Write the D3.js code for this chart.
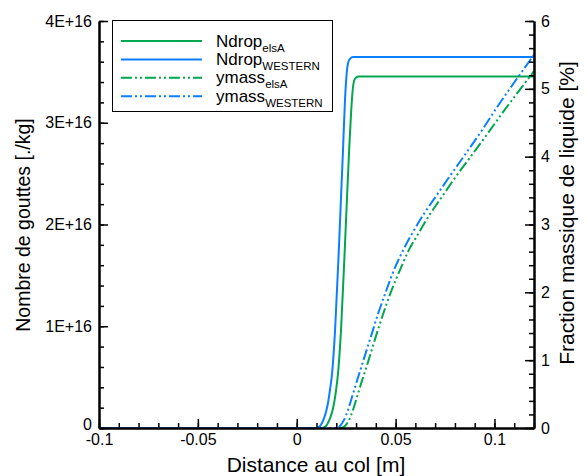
<!DOCTYPE html>
<html>
<head>
<meta charset="utf-8">
<script src="https://cdn.jsdelivr.net/npm/d3@7"></script>
<style>
  html, body { margin: 0; padding: 0; background: #fff; }
  svg { display: block; font-family: "Liberation Sans", Arial, sans-serif; }
</style>
</head>
<body>
<svg id="chart" width="587" height="476"></svg>
<script>
// ---------- data ----------
const ndropElsaX    = [-0.1, 0.0128, 0.0148, 0.0163, 0.0179, 0.0189, 0.0199, 0.0209, 0.0224, 0.0244, 0.0265, 0.0275, 0.0282, 0.0290, 0.0300, 0.0315, 0.12];
const ndropElsaY    = [0, 0, 0.02e16, 0.07e16, 0.157e16, 0.246e16, 0.373e16, 0.54e16, 0.963e16, 1.80e16, 2.73e16, 3.10e16, 3.30e16, 3.41e16, 3.445e16, 3.455e16, 3.455e16];

const ndropWesternX = [-0.1, 0.0098, 0.0118, 0.0133, 0.0148, 0.0158, 0.0168, 0.0179, 0.0194, 0.0214, 0.0234, 0.0244, 0.0252, 0.0260, 0.0270, 0.0285, 0.12];
const ndropWesternY = [0, 0, 0.02e16, 0.07e16, 0.157e16, 0.246e16, 0.373e16, 0.54e16, 0.963e16, 1.80e16, 2.73e16, 3.22e16, 3.47e16, 3.59e16, 3.63e16, 3.645e16, 3.645e16];

const ymassElsaX    = [-0.1, 0.0224, 0.0244, 0.0265, 0.0285, 0.0305, 0.0325, 0.0356, 0.0396, 0.0437, 0.0477, 0.0518, 0.0563, 0.0614, 0.0669, 0.0730, 0.0801, 0.0882, 0.0963, 0.1044, 0.1124, 0.12];
const ymassElsaY    = [0, 0, 0.03, 0.12, 0.27, 0.46, 0.65, 0.93, 1.31, 1.68, 2.01, 2.30, 2.60, 2.86, 3.13, 3.39, 3.69, 4.01, 4.33, 4.66, 4.97, 5.26];

const ymassWesternX = [-0.1, 0.0199, 0.0219, 0.0239, 0.0260, 0.0280, 0.0300, 0.0330, 0.0371, 0.0411, 0.0452, 0.0492, 0.0538, 0.0588, 0.0644, 0.0705, 0.0776, 0.0856, 0.0937, 0.1018, 0.1099, 0.12];
const ymassWesternY = [0, 0, 0.03, 0.12, 0.27, 0.46, 0.65, 0.93, 1.31, 1.68, 2.02, 2.33, 2.62, 2.89, 3.16, 3.42, 3.72, 4.05, 4.39, 4.75, 5.09, 5.50];

const xTicks = [-0.1, -0.05, 0, 0.05, 0.1];
const xTickLabels = ["-0.1", "-0.05", "0", "0.05", "0.1"];
const leftTicks = [0, 1e16, 2e16, 3e16, 4e16];
const leftTickLabels = ["0", "1E+16", "2E+16", "3E+16", "4E+16"];
const rightTicks = [0, 1, 2, 3, 4, 5, 6];
const rightTickLabels = ["0", "1", "2", "3", "4", "5", "6"];

const legendNames = ["Ndrop", "Ndrop", "ymass", "ymass"];
const legendSubs = ["elsA", "WESTERN", "elsA", "WESTERN"];

// ---------- layout ----------
const GREEN = "#00A650", BLUE = "#0A80FF";
const svg = d3.select("#chart");
const x = d3.scaleLinear().domain([-0.1, 0.12]).range([99, 534]);
const yL = d3.scaleLinear().domain([0, 4e16]).range([428, 21]);
const yR = d3.scaleLinear().domain([0, 6]).range([428, 21]);

const series = [
  { xs: ndropElsaX, ys: ndropElsaY, y: yL, color: GREEN, dash: null },
  { xs: ndropWesternX, ys: ndropWesternY, y: yL, color: BLUE, dash: null },
  { xs: ymassElsaX, ys: ymassElsaY, y: yR, color: GREEN, dash: "11,3,2,3,2,3" },
  { xs: ymassWesternX, ys: ymassWesternY, y: yR, color: BLUE, dash: "11,3,2,3,2,3" }
];

const gLines = svg.append("g");
series.forEach(s => {
  const pts = s.xs.map((v, i) => [v, s.ys[i]]);
  const line = d3.line().x(d => x(d[0])).y(d => s.y(d[1])).curve(d3.curveMonotoneX);
  gLines.append("path").datum(pts)
    .attr("d", line)
    .attr("fill", "none")
    .attr("stroke", s.color)
    .attr("stroke-width", 2)
    .attr("stroke-dasharray", s.dash);
});

function minor(lo, hi, step) {
  const out = [];
  for (let i = 0; lo + i * step <= hi + step * 1e-6; i++) out.push(lo + i * step);
  return out;
}

// bottom axis
const gx = svg.append("g").attr("transform", "translate(0,428)");
gx.call(d3.axisBottom(x).tickValues(minor(-0.1, 0.12, 0.01)).tickSize(-5).tickSizeOuter(0).tickFormat(""));
gx.append("g").call(d3.axisBottom(x).tickValues(xTicks).tickSize(-9).tickSizeOuter(0).tickPadding(6)
  .tickFormat((d, i) => xTickLabels[i]));

// left axis
const gl = svg.append("g").attr("transform", "translate(99,0)");
gl.call(d3.axisLeft(yL).tickValues(minor(0, 4e16, 0.2e16)).tickSize(-5).tickSizeOuter(0).tickFormat(""));
gl.append("g").call(d3.axisLeft(yL).tickValues(leftTicks).tickSize(-9).tickSizeOuter(0).tickPadding(7)
  .tickFormat((d, i) => leftTickLabels[i]));

// right axis
const gr = svg.append("g").attr("transform", "translate(534,0)");
gr.call(d3.axisRight(yR).tickValues(minor(0, 6, 0.2)).tickSize(-5).tickSizeOuter(0).tickFormat(""));
gr.append("g").call(d3.axisRight(yR).tickValues(rightTicks).tickSize(-9).tickSizeOuter(0).tickPadding(7)
  .tickFormat((d, i) => rightTickLabels[i]));

svg.selectAll(".domain").attr("stroke", "#000").attr("stroke-width", 2);
svg.selectAll(".tick line").attr("stroke", "#000").attr("stroke-width", 1.5);
svg.selectAll(".tick text").attr("font-size", 16).attr("fill", "#000")
  .attr("font-family", "'Liberation Sans', Arial, sans-serif");
// lift the left "0" slightly so it does not collide with "-0.1"
gl.selectAll(".tick text").filter(d => d === 0).attr("dy", "0.1em");

// axis titles
svg.append("text").attr("x", 316).attr("y", 472).attr("text-anchor", "middle")
  .attr("font-size", 21).text("Distance au col [m]");
svg.append("text").attr("transform", "translate(30,225) rotate(-90)").attr("text-anchor", "middle")
  .attr("font-size", 19.5).text("Nombre de gouttes [./kg]");
svg.append("text").attr("transform", "translate(574,213) rotate(-90)").attr("text-anchor", "middle")
  .attr("font-size", 21).text("Fraction massique de liquide [%]");

// legend
const lg = svg.append("g");
lg.append("rect").attr("x", 112.5).attr("y", 20.5).attr("width", 220).attr("height", 91)
  .attr("fill", "#fff").attr("stroke", "#000").attr("stroke-width", 1);
series.forEach((s, i) => {
  const cy = 41 + i * 18.4;
  lg.append("line").attr("x1", 121).attr("x2", 202).attr("y1", cy).attr("y2", cy)
    .attr("stroke", s.color).attr("stroke-width", 2).attr("stroke-dasharray", s.dash);
  const t = lg.append("text").attr("x", 216).attr("y", cy + 5.5).attr("font-size", 17);
  t.append("tspan").text(legendNames[i]);
  t.append("tspan").attr("font-size", 11.5).attr("dy", 5).text(legendSubs[i]);
});
</script>
</body>
</html>
